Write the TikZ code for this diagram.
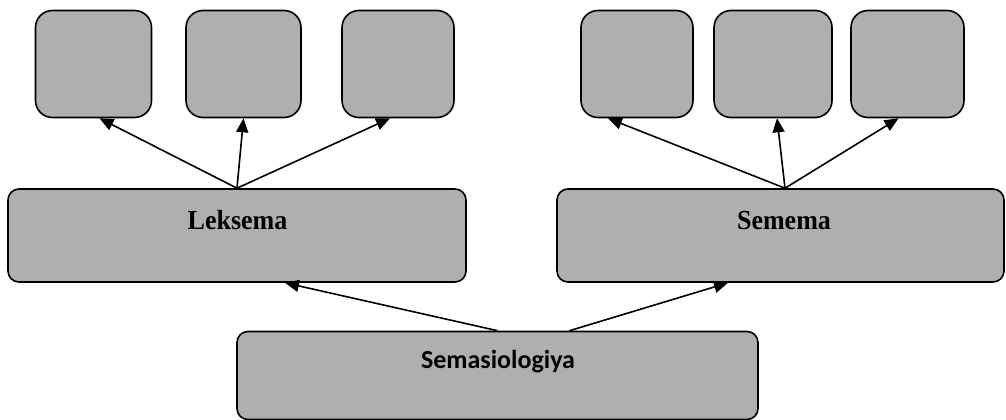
\documentclass[tikz,border=0pt]{standalone}
\usepackage{fontspec}
\setmainfont{Liberation Serif}
\newfontfamily\carl{Carlito}
\usetikzlibrary{arrows.meta,calc}
\definecolor{boxgray}{RGB}{175,175,175}
\tikzset{
  smallbox/.style={draw=black, line width=1.6pt, fill=boxgray, rounded corners=17pt, inner sep=0pt, minimum width=#1, minimum height=107pt},
  bigbox/.style={draw=black, line width=1.6pt, fill=boxgray, rounded corners=11pt, inner sep=0pt},
  conn/.style={line width=1.6pt, -{Triangle[length=14pt,width=12pt]}},
  serlbl/.style={font=\fontsize{26}{30}\selectfont\bfseries, anchor=base, inner sep=0pt, yscale=1.06},
  sanslbl/.style={font=\carl\fontsize{26}{30}\selectfont\bfseries, anchor=base, inner sep=0pt}
}
\begin{document}
\begin{tikzpicture}[x=1pt,y=1pt]
\useasboundingbox (0,0) rectangle (1006,-420);
% small boxes
\node[smallbox=116pt] (b1) at (93.5,-64) {};
\node[smallbox=115pt] (b2) at (243.5,-64) {};
\node[smallbox=112pt] (b3) at (398,-64) {};
\node[smallbox=112pt] (b4) at (637,-64) {};
\node[smallbox=118pt] (b5) at (773,-64) {};
\node[smallbox=113pt] (b6) at (907.5,-64) {};
% big boxes
\node[bigbox, minimum width=458pt, minimum height=93pt] (lek) at (237,-235.5) {};
\node[bigbox, minimum width=447pt, minimum height=93pt] (sem) at (780.5,-235.5) {};
\node[bigbox, minimum width=521pt, minimum height=88pt] (semas) at (497.5,-375.5) {};
% labels
\node[serlbl] (lekT) at (237.5,-229) {Leksema};
\node[serlbl] (semT) at (784,-229) {Semema};
\node[sanslbl] (semasT) at (498,-368) {Semasiologiya};
% connectors
\draw[conn] (lek.north) -- ([xshift=6pt]b1.south);
\draw[conn] (lek.north) -- (b2.south);
\draw[conn] (lek.north) -- ([xshift=-8pt]b3.south);
\draw[conn] ([xshift=4.5pt]sem.north) -- ([xshift=-29pt]b4.south);
\draw[conn] ([xshift=4.5pt]sem.north) -- ([xshift=4pt]b5.south);
\draw[conn] ([xshift=4.5pt]sem.north) -- ([xshift=-9pt]b6.south);
\draw[conn] (semas.north) -- ([xshift=48pt]lek.south);
\draw[conn] ([xshift=72pt]semas.north) -- ([xshift=-52.5pt]sem.south);
\end{tikzpicture}
\end{document}
